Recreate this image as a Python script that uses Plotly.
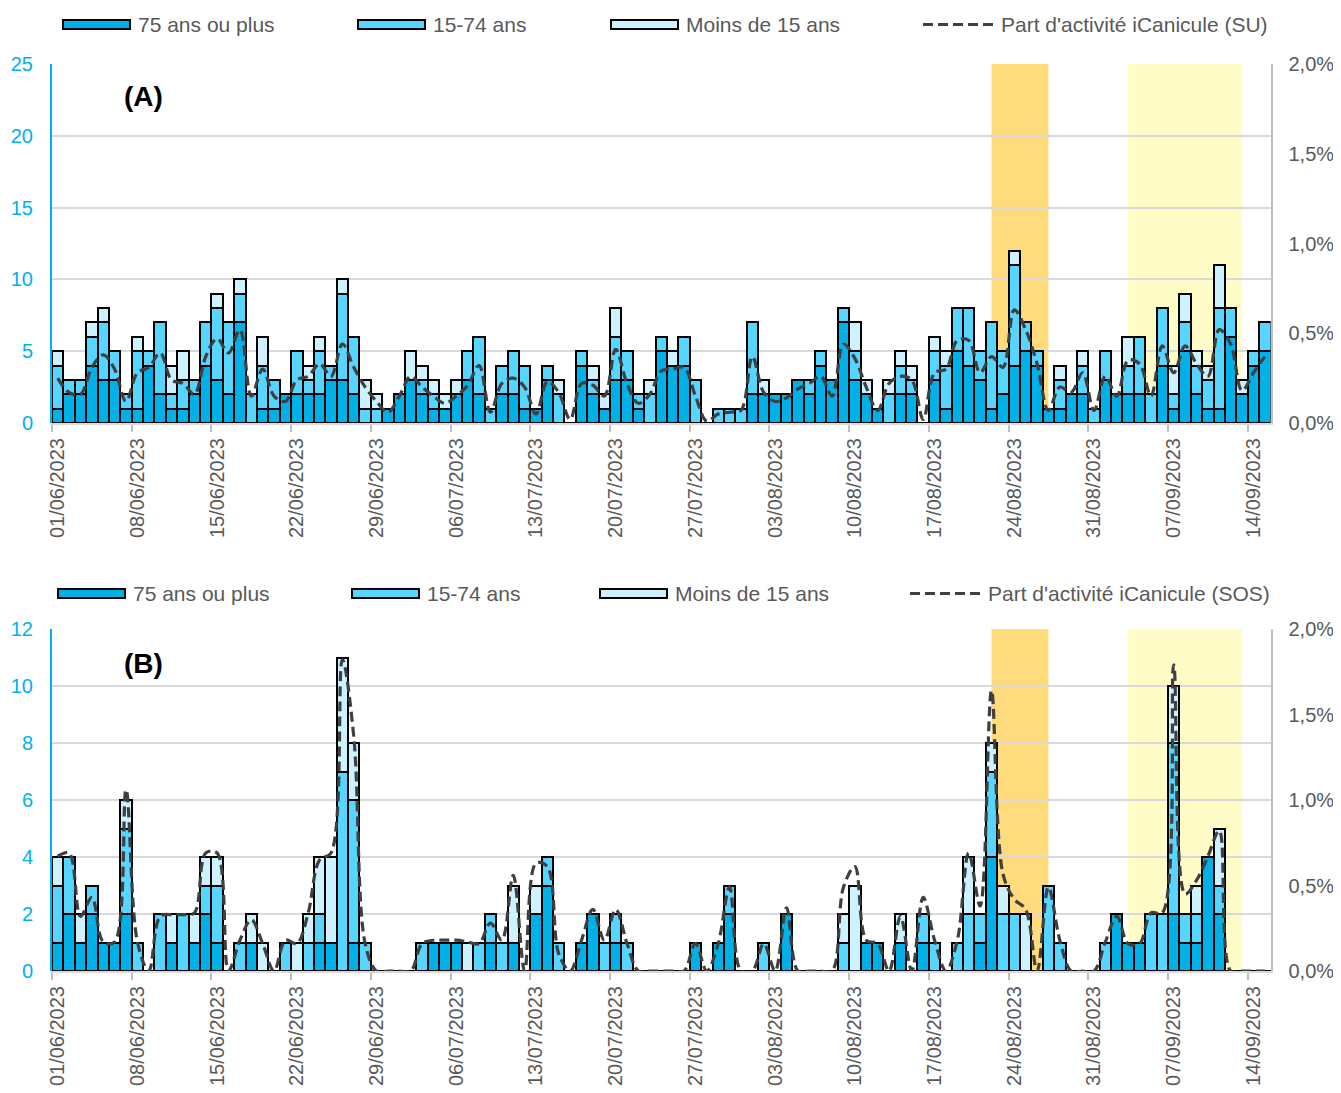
import pandas as pd
import plotly.graph_objects as go
from plotly.subplots import make_subplots

# ---------------- data ----------------
dates = pd.date_range("2023-06-01", "2023-09-15", freq="D")
date_labels = [d.strftime("%d/%m/%Y") for d in dates]
tick_every = 7

series_names = ["75 ans ou plus", "15-74 ans", "Moins de 15 ans"]

# Panel A : SU (passages aux urgences)
su_75plus = [1, 2, 2, 4, 3, 3, 1, 1, 4, 2,
             1, 1, 2, 4, 3, 2, 7, 0, 1, 1,
             2, 2, 2, 2, 3, 3, 2, 0, 0, 1,
             2, 3, 2, 1, 1, 2, 3, 2, 0, 2,
             2, 1, 1, 3, 0, 0, 4, 2, 1, 3,
             3, 1, 0, 5, 4, 4, 0, 0, 0, 0,
             0, 2, 2, 2, 2, 3, 2, 4, 3, 7,
             3, 2, 1, 0, 2, 2, 0, 3, 1, 5,
             4, 3, 1, 2, 4, 5, 4, 1, 1, 2,
             2, 0, 3, 2, 2, 2, 0, 4, 1, 5,
             2, 1, 1, 6, 2, 4, 5]
su_15_74 = [3, 1, 1, 2, 4, 2, 1, 4, 1, 5,
            1, 2, 1, 3, 5, 5, 2, 2, 3, 2,
            0, 3, 1, 3, 1, 6, 4, 1, 1, 0,
            0, 0, 1, 1, 0, 0, 2, 4, 1, 2,
            3, 3, 0, 1, 2, 0, 1, 1, 0, 3,
            2, 1, 2, 1, 0, 2, 3, 0, 1, 1,
            1, 5, 0, 0, 0, 0, 1, 1, 0, 1,
            2, 0, 0, 2, 2, 1, 0, 2, 3, 3,
            4, 2, 6, 3, 7, 2, 1, 0, 2, 0,
            2, 1, 2, 0, 2, 4, 2, 4, 1, 2,
            2, 2, 7, 2, 0, 1, 2]
su_moins15 = [1, 0, 0, 1, 1, 0, 0, 1, 0, 0,
              2, 2, 0, 0, 1, 0, 1, 0, 2, 0,
              0, 0, 1, 1, 0, 1, 0, 2, 1, 0,
              0, 2, 1, 1, 1, 1, 0, 0, 0, 0,
              0, 0, 0, 0, 1, 0, 0, 1, 1, 2,
              0, 0, 1, 0, 1, 0, 0, 0, 0, 0,
              0, 0, 1, 0, 0, 0, 0, 0, 0, 0,
              2, 1, 0, 1, 1, 1, 0, 1, 1, 0,
              0, 0, 0, 0, 1, 0, 0, 0, 1, 0,
              1, 0, 0, 0, 2, 0, 0, 0, 2, 2,
              1, 1, 3, 0, 1, 0, 0]
su_part_pct = [0.25, 0.17, 0.16, 0.31, 0.38, 0.30, 0.12, 0.28, 0.31, 0.39,
               0.24, 0.22, 0.16, 0.37, 0.47, 0.39, 0.52, 0.15, 0.30, 0.15,
               0.12, 0.24, 0.26, 0.33, 0.26, 0.44, 0.31, 0.20, 0.12, 0.06,
               0.15, 0.26, 0.20, 0.15, 0.11, 0.15, 0.21, 0.32, 0.06, 0.22,
               0.25, 0.20, 0.05, 0.23, 0.17, 0.02, 0.22, 0.21, 0.15, 0.41,
               0.22, 0.11, 0.16, 0.29, 0.30, 0.31, 0.15, 0.01, 0.05, 0.06,
               0.07, 0.37, 0.17, 0.12, 0.14, 0.19, 0.22, 0.26, 0.15, 0.44,
               0.36, 0.20, 0.07, 0.22, 0.26, 0.24, 0.02, 0.28, 0.30, 0.46,
               0.46, 0.28, 0.37, 0.31, 0.63, 0.52, 0.33, 0.07, 0.20, 0.17,
               0.28, 0.07, 0.26, 0.15, 0.35, 0.33, 0.15, 0.43, 0.28, 0.43,
               0.33, 0.26, 0.52, 0.44, 0.18, 0.28, 0.37]

# Panel B : SOS Médecins
sos_75plus = [1, 2, 1, 2, 1, 1, 2, 0, 0, 0,
              1, 0, 1, 2, 1, 0, 0, 1, 0, 0,
              0, 0, 0, 1, 1, 0, 1, 0, 0, 0,
              0, 0, 0, 1, 1, 1, 0, 0, 1, 0,
              1, 0, 2, 3, 0, 0, 1, 2, 0, 1,
              0, 0, 0, 0, 0, 0, 1, 0, 1, 2,
              0, 0, 0, 0, 2, 0, 0, 0, 0, 0,
              0, 1, 1, 0, 1, 0, 1, 0, 0, 0,
              0, 1, 4, 0, 0, 0, 0, 0, 0, 0,
              0, 0, 0, 2, 1, 1, 0, 0, 2, 1,
              1, 4, 2, 0, 0, 0, 0]
sos_15_74 = [2, 2, 0, 1, 0, 0, 3, 1, 0, 2,
             0, 2, 0, 1, 2, 0, 1, 0, 0, 0,
             1, 0, 1, 1, 0, 7, 5, 1, 0, 0,
             0, 0, 1, 0, 0, 0, 0, 1, 1, 1,
             0, 0, 0, 1, 1, 0, 0, 0, 1, 1,
             1, 0, 0, 0, 0, 0, 0, 0, 0, 1,
             0, 0, 1, 0, 0, 0, 0, 0, 0, 1,
             0, 0, 0, 0, 0, 0, 1, 1, 0, 1,
             2, 1, 3, 2, 2, 0, 0, 3, 1, 0,
             0, 0, 1, 0, 0, 0, 2, 2, 6, 1,
             1, 0, 1, 0, 0, 0, 0]
sos_moins15 = [1, 0, 1, 0, 0, 0, 1, 0, 0, 0,
               1, 0, 1, 1, 1, 0, 0, 1, 1, 0,
               0, 1, 1, 2, 3, 4, 2, 0, 0, 0,
               0, 0, 0, 0, 0, 0, 1, 0, 0, 0,
               2, 0, 1, 0, 0, 0, 0, 0, 0, 0,
               0, 0, 0, 0, 0, 0, 0, 0, 0, 0,
               0, 0, 0, 0, 0, 0, 0, 0, 0, 1,
               3, 0, 0, 0, 1, 0, 0, 0, 0, 0,
               2, 0, 1, 1, 0, 2, 0, 0, 0, 0,
               0, 0, 0, 0, 0, 0, 0, 0, 2, 0,
               1, 0, 2, 0, 0, 0, 0]
sos_part_pct = [0.67, 0.69, 0.32, 0.43, 0.17, 0.17, 1.06, 0.17, 0.00, 0.32,
                0.33, 0.33, 0.34, 0.69, 0.69, 0.00, 0.18, 0.30, 0.16, 0.00,
                0.18, 0.16, 0.34, 0.65, 0.69, 1.82, 1.37, 0.16, 0.00, 0.00,
                0.00, 0.00, 0.16, 0.18, 0.18, 0.18, 0.17, 0.16, 0.28, 0.18,
                0.56, 0.00, 0.63, 0.61, 0.10, 0.00, 0.18, 0.36, 0.18, 0.36,
                0.16, 0.00, 0.00, 0.00, 0.00, 0.00, 0.16, 0.00, 0.16, 0.49,
                0.00, 0.00, 0.16, 0.00, 0.37, 0.00, 0.00, 0.00, 0.00, 0.49,
                0.61, 0.18, 0.16, 0.00, 0.32, 0.00, 0.43, 0.18, 0.00, 0.18,
                0.69, 0.38, 1.64, 0.57, 0.42, 0.36, 0.00, 0.49, 0.18, 0.00,
                0.00, 0.00, 0.17, 0.32, 0.16, 0.16, 0.34, 0.34, 1.79, 0.45,
                0.53, 0.67, 0.82, 0.00, 0.00, 0.00, 0.00]

# heat-wave periods (start / end dates)
vigilance_orange = ("22/08/2023", "27/08/2023")
vigilance_jaune = ("03/09/2023", "13/09/2023")

# ---------------- styles ----------------
PAGE_W, PAGE_H = 1341, 1093
OFF = 8                      # default body margin of the html page
W, H = PAGE_W - OFF, PAGE_H - OFF
COL = ["#00B0E6", "#55D5FF", "#CCF2FF"]
LINE_COL = "#3f3f3f"
GRID = "#d9d9d9"
TXT = "#595959"
CYAN = "#00B0F0"
FONT = "Liberation Sans, Arial, sans-serif"
DASH = "10px,5px"

x_idx = list(range(len(dates)))

fig = make_subplots(rows=2, cols=1, specs=[[{"secondary_y": True}], [{"secondary_y": True}]])

panels = [
    (1, [su_75plus, su_15_74, su_moins15], su_part_pct),
    (2, [sos_75plus, sos_15_74, sos_moins15], sos_part_pct),
]
for row, stacks, part in panels:
    for name, vals, col in zip(series_names, stacks, COL):
        fig.add_trace(go.Bar(x=x_idx, y=vals, name=name, width=1,
                             marker=dict(color=col, line=dict(color="black", width=2)),
                             showlegend=False), row=row, col=1, secondary_y=False)
    fig.add_trace(go.Scatter(x=x_idx, y=part, mode="lines", line_shape="spline",
                             line=dict(color=LINE_COL, width=3.2, dash=DASH),
                             showlegend=False), row=row, col=1, secondary_y=True)


def px(xp):
    return (xp - OFF) / W


def py(yp):
    return 1 - (yp - OFF) / H


xdom = [px(52), px(1270.5)]
ydomA = [py(423), py(64)]
ydomB = [py(971), py(629)]

tickvals = x_idx[::tick_every]
ticktext = [date_labels[i] for i in tickvals]
minor_vals = [i - 0.5 for i in tickvals]

xcommon = dict(range=[-0.5, len(dates) - 0.5], domain=xdom, tickmode="array",
               tickvals=tickvals, ticktext=ticktext, tickangle=-90, automargin=False,
               ticks="outside", ticklen=5, tickcolor="rgba(0,0,0,0)",
               tickfont=dict(family=FONT, size=20, color=TXT),
               showgrid=False, zeroline=False, showline=True, linecolor=GRID, linewidth=2,
               minor=dict(tickmode="array", tickvals=minor_vals, ticks="outside",
                          ticklen=7, tickcolor="#bfbfbf", tickwidth=1.5, showgrid=False))

left_common = dict(showgrid=True, gridcolor=GRID, gridwidth=2, automargin=False,
                   zeroline=False, showline=True, linecolor=CYAN, linewidth=2, ticks="",
                   ticklabelstandoff=13, tickfont=dict(family=FONT, size=20, color=CYAN))
right_common = dict(range=[0, 2], dtick=0.5, tickformat=".1f", ticksuffix="%", showgrid=False,
                    automargin=False, zeroline=False, showline=True, linecolor="#bfbfbf",
                    linewidth=2, ticks="", ticklabelstandoff=12,
                    tickfont=dict(family=FONT, size=20, color=TXT))

fig.update_layout(
    template="none",
    width=W, height=H, margin=dict(l=0, r=0, t=0, b=0, pad=0, autoexpand=False),
    paper_bgcolor="white", plot_bgcolor="white",
    barmode="stack", bargap=0, separators=", ",
    showlegend=False,
    xaxis=dict(**xcommon, anchor="y"),
    xaxis2=dict(**xcommon, anchor="y3"),
    yaxis=dict(domain=ydomA, range=[0, 25], dtick=5, **left_common),
    yaxis2=dict(domain=ydomA, **right_common),
    yaxis3=dict(domain=ydomB, range=[0, 12], dtick=2, **left_common),
    yaxis4=dict(domain=ydomB, **right_common),
)

# heat-wave bands
o0, o1 = date_labels.index(vigilance_orange[0]), date_labels.index(vigilance_orange[1])
j0, j1 = date_labels.index(vigilance_jaune[0]), date_labels.index(vigilance_jaune[1])
for xr, yr in [("x", "y domain"), ("x2", "y3 domain")]:
    fig.add_shape(type="rect", xref=xr, yref=yr, x0=o0, x1=o1, y0=0, y1=1,
                  fillcolor="#FFDB7D", line_width=0, layer="below")
    fig.add_shape(type="rect", xref=xr, yref=yr, x0=j0, x1=j1, y0=0, y1=1,
                  fillcolor="#FFFCC8", line_width=0, layer="below")

# manual legends
legend_rows = [
    (24.5, [63, 358, 611], 923, "Part d'activité iCanicule (SU)"),
    (593.5, [58, 352, 600], 910, "Part d'activité iCanicule (SOS)"),
]
for yc, rect_x, line_x, line_label in legend_rows:
    for xr, name, col in zip(rect_x, series_names, COL):
        fig.add_shape(type="rect", xref="paper", yref="paper",
                      x0=px(xr), x1=px(xr + 67), y0=py(yc + 4.5), y1=py(yc - 4.5),
                      fillcolor=col, line=dict(color="black", width=2))
        fig.add_annotation(xref="paper", yref="paper", x=px(xr + 73), y=py(yc),
                           xanchor="left", yanchor="middle", showarrow=False, text=name,
                           font=dict(family=FONT, size=21, color=TXT))
    fig.add_shape(type="line", xref="paper", yref="paper",
                  x0=px(line_x), x1=px(line_x + 70), y0=py(yc), y1=py(yc),
                  line=dict(color=LINE_COL, width=3, dash=DASH))
    fig.add_annotation(xref="paper", yref="paper", x=px(line_x + 76), y=py(yc),
                       xanchor="left", yanchor="middle", showarrow=False, text=line_label,
                       font=dict(family=FONT, size=21, color=TXT))

for label, yc in [("(A)", 97), ("(B)", 663)]:
    fig.add_annotation(xref="paper", yref="paper", x=px(143), y=py(yc),
                       xanchor="center", yanchor="middle", showarrow=False,
                       text="<b>" + label + "</b>",
                       font=dict(family=FONT, size=28, color="black"))

fig.write_html("out.html")
